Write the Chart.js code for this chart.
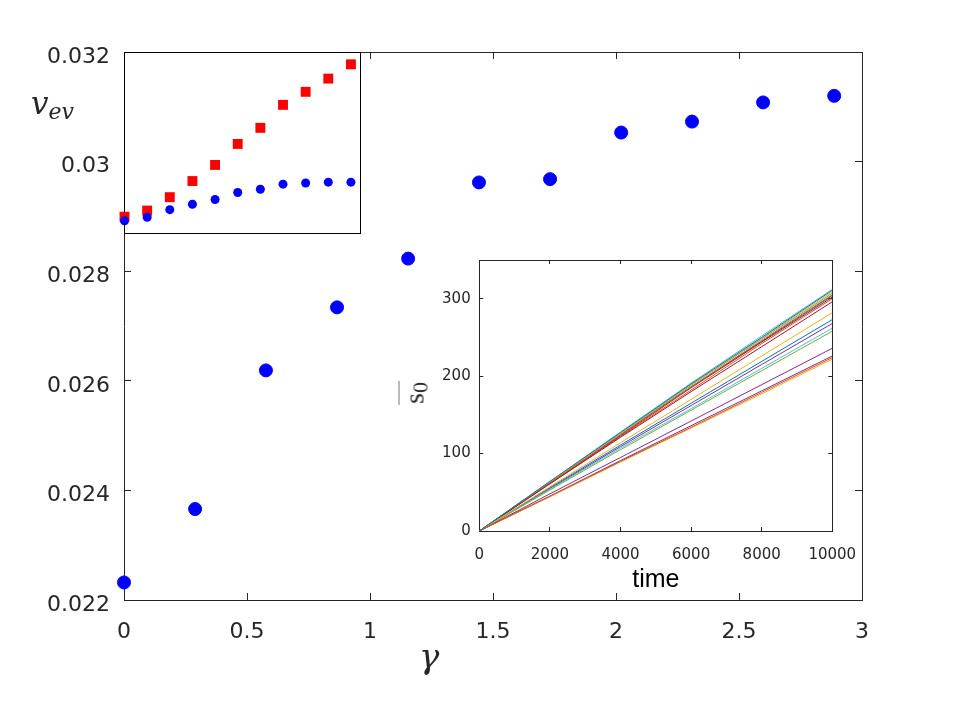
<!DOCTYPE html>
<html>
<head>
<meta charset="utf-8">
<script src="https://cdn.jsdelivr.net/npm/chart.js@4.4.1/dist/chart.umd.min.js"></script>
<style>
  html, body { margin: 0; padding: 0; background: #fff; }
  #wrap { position: relative; width: 953px; height: 701px; overflow: hidden; }
  #wrap canvas { position: absolute; }
  #mainChart { left: 0; top: 0; }
  #insetTop { left: 100px; top: 30px; }
  #insetLines { left: 400px; top: 230px; }
  .lbl { position: absolute; color: #262626; white-space: nowrap; line-height: 1; }
  #vLabel { left: 31px; top: 85px; font: italic 31px "DejaVu Serif", serif; }
  #vLabel sub { font-size: 22px; vertical-align: -5px; }
  #gLabel { left: 419px; top: 636px; font: italic 34px "DejaVu Serif", serif; }
  #sLabel { left: 415px; top: 393px; font: 28px "Liberation Serif", serif;
            transform: translate(-50%, -50%) rotate(-90deg); }
  #sLabel span { display: inline-block; border-top: 1.5px solid #777; padding: 1px 1px 0 1px; line-height: 1; }
  #sLabel sub { font-size: 22px; vertical-align: -4px; line-height: 1; }
</style>
</head>
<body>
<div id="wrap">
  <canvas id="mainChart" width="953" height="701"></canvas>
  <canvas id="insetTop" width="290" height="230"></canvas>
  <canvas id="insetLines" width="483" height="370"></canvas>
  <div class="lbl" id="vLabel">v<sub>ev</sub></div>
  <div class="lbl" id="gLabel">γ</div>
  <div class="lbl" id="sLabel"><span>s<sub>0</sub></span></div>
</div>
<script>
// --- main panel: v_ev vs gamma ---
const gammaValues = [0, 0.289, 0.577, 0.866, 1.155, 1.443, 1.732, 2.021, 2.309, 2.598, 2.887];
const vevValues = [0.02232, 0.02366, 0.02619, 0.02734, 0.02823, 0.02962, 0.02968,
  0.03053, 0.03073, 0.03108, 0.03120];

// --- top-left inset (no tick labels, arbitrary units) ---
const insetIndex = [0, 1, 2, 3, 4, 5, 6, 7, 8, 9, 10];
const insetRed = [9.0, 12.4, 19.8, 28.7, 37.6, 49.2, 58.1, 70.8, 78.0, 85.3, 93.2];
const insetBlue = [6.7, 8.7, 12.9, 15.9, 18.5, 22.4, 24.2, 27.0, 27.6, 28.1, 28.1];

// --- lower-right inset: s0 vs time ---
const timeValues = [0, 2000, 4000, 6000, 8000, 10000];
const s0Runs = [
  [0, 64, 127, 190, 250, 311],
  [0, 45, 90, 134, 179, 224],
  [0, 57, 114, 170, 226, 282],
  [0, 48, 95, 142, 189, 236],
  [0, 53, 105, 156, 207, 258],
  [0, 54, 107, 158, 210, 262],
  [0, 61, 121, 180, 238, 296],
  [0, 56, 111, 165, 219, 273],
  [0, 62, 124, 186, 246, 305],
  [0, 63, 126, 189, 249, 309],
  [0, 55, 109, 162, 215, 268],
  [0, 62, 125, 188, 248, 307],
  [0, 64, 128, 191, 252, 312],
  [0, 62, 123, 185, 244, 302],
  [0, 63, 125, 186, 245, 304],
  [0, 61, 122, 182, 242, 300],
  [0, 44, 89, 133, 177, 222],
  [0, 45, 91, 136, 181, 226],
];
const runColors = ["#0072BD", "#D95319", "#EDB120", "#7E2F8E", "#77AC30", "#4DBEEE", "#A2142F"];

const AXIS = "#262626";
const plain = (v) => String(Number(v.toFixed(3)));

const whiteArea = {
  id: "whiteArea",
  beforeDraw(chart) {
    const { ctx, chartArea: a } = chart;
    ctx.save();
    ctx.fillStyle = "#fff";
    ctx.fillRect(a.left, a.top, a.width, a.height);
    ctx.restore();
  },
};

function sized(w, h) {
  return (s) => {
    if (w !== null) s.width = w;
    if (h !== null) s.height = h;
  };
}

// mirror axis: only the frame line and inward ticks
function mirror(position, min, max, step, tick) {
  const horiz = position === "top" || position === "bottom";
  return {
    type: "linear",
    position,
    min,
    max,
    ticks: { display: false, stepSize: step, includeBounds: false },
    grid: { drawOnChartArea: false, tickLength: -tick, color: AXIS },
    border: { color: AXIS },
    afterFit: horiz ? sized(null, 0) : sized(0, null),
  };
}

function toPoints(xs, ys) {
  return xs.map((x, i) => ({ x, y: ys[i] }));
}

// --- main chart ---
new Chart(document.getElementById("mainChart"), {
  type: "scatter",
  data: {
    datasets: [
      {
        data: toPoints(gammaValues, vevValues),
        backgroundColor: "#0000ff",
        borderColor: "#0000ff",
        pointRadius: 6.5,
        borderWidth: 1,
        clip: false,
      },
    ],
  },
  options: {
    responsive: false,
    animation: false,
    layout: { padding: { left: 0, top: 52, right: 91, bottom: 0 } },
    plugins: { legend: { display: false }, tooltip: { enabled: false } },
    scales: {
      x: {
        type: "linear",
        min: 0,
        max: 3,
        ticks: { stepSize: 0.5, padding: 26, color: AXIS, font: { family: "DejaVu Sans", size: 22 }, callback: plain },
        grid: { drawOnChartArea: false, tickLength: -7, color: AXIS },
        border: { color: AXIS },
        afterFit: sized(null, 101),
      },
      y: {
        type: "linear",
        min: 0.022,
        max: 0.032,
        ticks: {
          stepSize: 0.002,
          padding: 21,
          labelOffset: 5,
          color: AXIS,
          font: { family: "DejaVu Sans", size: 22 },
          callback: plain,
        },
        grid: { drawOnChartArea: false, tickLength: -7, color: AXIS },
        border: { color: AXIS },
        afterFit: sized(124, null),
      },
      x2: mirror("top", 0, 3, 0.5, 7),
      y2: mirror("right", 0.022, 0.032, 0.002, 7),
    },
  },
});

// --- top-left inset ---
new Chart(document.getElementById("insetTop"), {
  type: "scatter",
  data: {
    datasets: [
      {
        data: toPoints(insetIndex, insetBlue),
        backgroundColor: "#0000ff",
        borderColor: "#0000ff",
        pointRadius: 4.5,
        borderWidth: 0,
        clip: false,
      },
      {
        data: toPoints(insetIndex, insetRed),
        backgroundColor: "#ff0000",
        borderColor: "#ff0000",
        pointStyle: "rect",
        pointRadius: 7,
        borderWidth: 0,
        clip: false,
      },
    ],
  },
  options: {
    responsive: false,
    animation: false,
    layout: { padding: { left: 24.5, top: 22, right: 30, bottom: 27 } },
    plugins: { legend: { display: false }, tooltip: { enabled: false } },
    scales: {
      x: {
        type: "linear",
        min: 0,
        max: 10.4,
        ticks: { display: false },
        grid: { display: false },
        border: { color: "#000" },
        afterFit: sized(null, 0),
      },
      y: {
        type: "linear",
        min: 0,
        max: 100,
        ticks: { display: false },
        grid: { display: false },
        border: { color: "#000" },
        afterFit: sized(0, null),
      },
      x2: {
        type: "linear", position: "top", min: 0, max: 10.4,
        ticks: { display: false }, grid: { display: false },
        border: { color: "#000" }, afterFit: sized(null, 0),
      },
      y2: {
        type: "linear", position: "right", min: 0, max: 100,
        ticks: { display: false }, grid: { display: false },
        border: { color: "#000" }, afterFit: sized(0, null),
      },
    },
  },
  plugins: [whiteArea],
});

// --- lower-right inset ---
new Chart(document.getElementById("insetLines"), {
  type: "line",
  data: {
    datasets: s0Runs.map((run, i) => ({
      data: toPoints(timeValues, run),
      borderColor: runColors[i % runColors.length],
      borderWidth: 1,
      pointRadius: 0,
      fill: false,
      tension: 0,
    })),
  },
  options: {
    responsive: false,
    animation: false,
    layout: { padding: { left: 0, top: 30, right: 50.7, bottom: 0 } },
    plugins: { legend: { display: false }, tooltip: { enabled: false } },
    scales: {
      x: {
        type: "linear",
        min: 0,
        max: 10000,
        ticks: { stepSize: 2000, padding: 19, color: AXIS, font: { family: "DejaVu Sans", size: 15 }, callback: (v) => String(v) },
        grid: { drawOnChartArea: false, tickLength: -4, color: AXIS },
        border: { color: AXIS },
        title: {
          display: true,
          text: "time",
          color: "#000",
          font: { family: "Liberation Sans", size: 25 },
          padding: { top: 0, bottom: 5 },
        },
        afterFit: sized(null, 69),
      },
      y: {
        type: "linear",
        min: 0,
        max: 350,
        ticks: { stepSize: 100, includeBounds: false, padding: 12.6, color: AXIS, font: { family: "DejaVu Sans", size: 15 }, callback: (v) => String(v) },
        grid: { drawOnChartArea: false, tickLength: -4, color: AXIS },
        border: { color: AXIS },
        afterFit: sized(79.3, null),
      },
      x2: mirror("top", 0, 10000, 2000, 4),
      y2: mirror("right", 0, 350, 100, 4),
    },
  },
  plugins: [whiteArea],
});
</script>
</body>
</html>
